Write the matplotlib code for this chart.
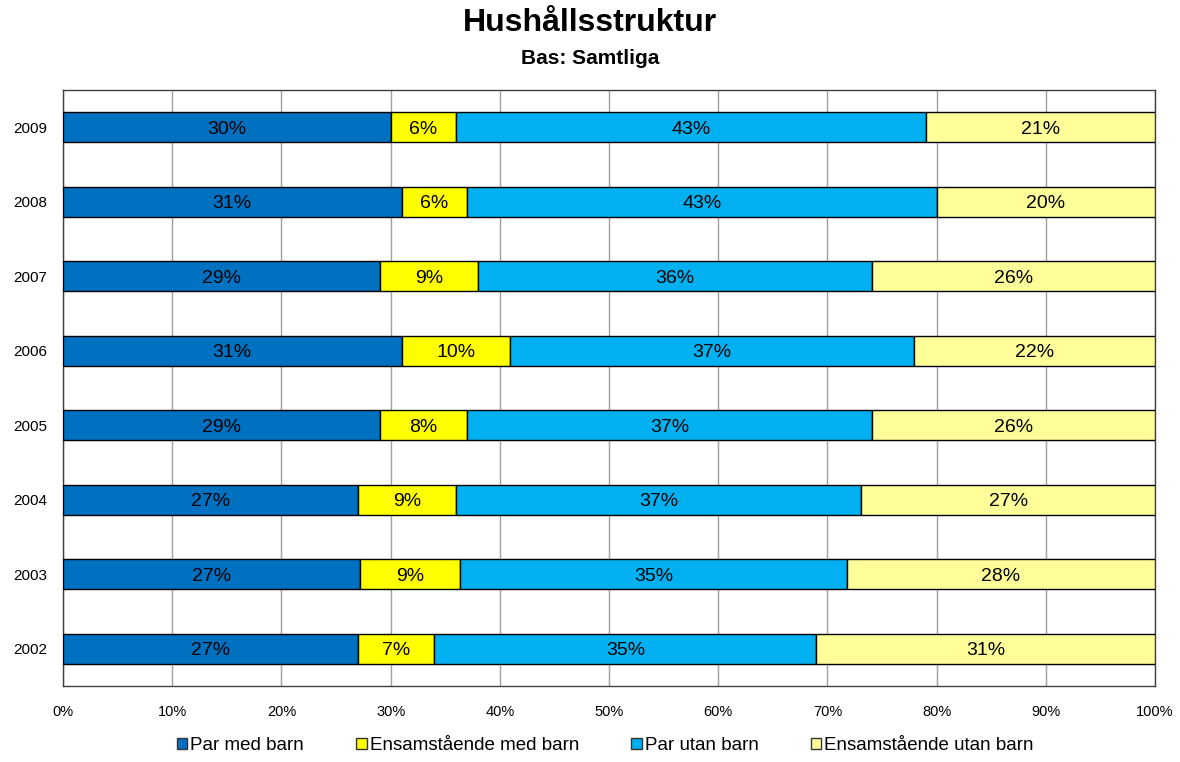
import matplotlib.pyplot as plt
import numpy as np

plt.rcParams['font.family'] = ['Liberation Sans', 'DejaVu Sans']

years = ['2002', '2003', '2004', '2005', '2006', '2007', '2008', '2009']
par_med_barn = [27.0, 27.2, 27.0, 29.0, 31.0, 29.0, 31.0, 30.0]
ensam_med_barn = [7.0, 9.2, 9.0, 8.0, 9.9, 9.0, 6.0, 6.0]
par_utan_barn = [35.0, 35.4, 37.1, 37.1, 37.0, 36.1, 43.0, 43.0]
ensam_utan_barn = [31.0, 28.2, 26.9, 25.9, 22.1, 25.9, 20.0, 21.0]

series = [
    ('Par med barn', par_med_barn, '#0070C0'),
    ('Ensamstående med barn', ensam_med_barn, '#FFFF00'),
    ('Par utan barn', par_utan_barn, '#00B0F0'),
    ('Ensamstående utan barn', ensam_utan_barn, '#FFFF99'),
]

fig = plt.figure(figsize=(11.8, 7.62), dpi=100)
ax = fig.add_axes([0.0534, 0.0997, 0.9254, 0.7822])

y = np.arange(len(years))
left = np.zeros(len(years))
for name, vals, color in series:
    vals = np.array(vals)
    ax.barh(y, vals, left=left, height=0.4, color=color, edgecolor='black',
            linewidth=1, label=name, zorder=3)
    for yi, l, v in zip(y, left, vals):
        ax.text(l + v / 2, yi, f'{round(v):.0f}%', ha='center',
                va='center_baseline', fontsize=14, color='black', zorder=4)
    left += vals

ax.set_xlim(0, 100)
ax.set_ylim(-0.5, len(years) - 0.5)
ax.set_yticks(y)
ax.set_yticklabels(years, fontsize=11)
ax.set_xticks(np.arange(0, 101, 10))
ax.set_xticklabels([f'{v}%' for v in range(0, 101, 10)], fontsize=10.5)
ax.tick_params(length=0, pad=14)
ax.tick_params(axis='y', pad=11.5)
ax.grid(axis='x', color='#A0A0A0', linewidth=1, zorder=0)
for s in ax.spines.values():
    s.set_color('#404040')
    s.set_linewidth(1)

fig.text(0.5, 0.9593, 'Hushållsstruktur', ha='center', va='baseline',
         fontsize=23, fontweight='bold')
fig.text(0.5, 0.916, 'Bas: Samtliga', ha='center', va='baseline',
         fontsize=15, fontweight='bold')

leg = fig.legend(loc='lower center', bbox_to_anchor=(0.513, -0.012), ncol=4,
                 frameon=False, fontsize=13.5, handlelength=0.55, handleheight=0.55,
                 handletextpad=0.15, columnspacing=2.8)
for h in leg.legend_handles:
    h.set_edgecolor('#333333')

fig.savefig('out.png', dpi=100)
